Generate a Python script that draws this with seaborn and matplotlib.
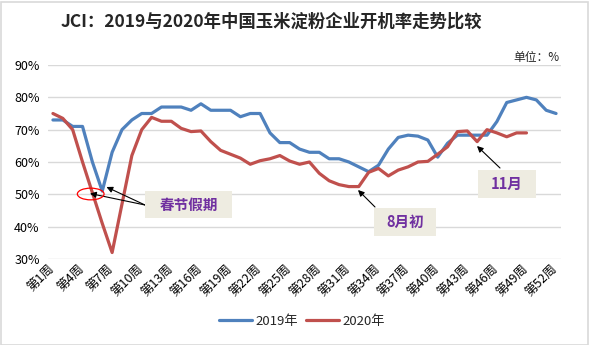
import numpy as np
import pandas as pd
import matplotlib
matplotlib.use("Agg")
import matplotlib.pyplot as plt
from matplotlib.patches import Rectangle, Ellipse
from matplotlib.ticker import FuncFormatter
from matplotlib.lines import Line2D
import seaborn as sns

# ---------------- data ----------------
weeks = list(range(1, 53))
week_labels = [f"第{i}周" for i in weeks]
tick_weeks = list(range(1, 53, 3))

rate_2019 = [73, 73, 71, 71, 60, 51, 63, 70, 73, 75, 75, 77, 77, 77, 76, 78, 76, 76, 76, 74,
             75, 75, 69, 66, 66, 64, 63, 63, 61, 61, 60, 58.5, 57, 59, 64, 67.6, 68.3, 68, 66.8, 61.5,
             65.8, 68.3, 68.3, 68.3, 68.3, 72.5, 78.4, 79.2, 80, 79.2, 76, 75]
rate_2020 = [75, 73.5, 70, 60, 50.5, 41, 32, 47, 62, 70, 73.8, 72.6, 72.6, 70.4, 69.4, 69.6, 66.3, 63.6,
             62.4, 61.2, 59.3, 60.4, 61, 62, 60.3, 59.3, 60, 56.5, 54.2, 53, 52.4, 52.4, 56.8, 58, 55.7,
             57.5, 58.5, 60, 60.2, 62.4, 64.7, 69.4, 69.6, 66.3, 70, 69, 67.8, 69, 69,
             np.nan, np.nan, np.nan]
series_names = ["2019年", "2020年"]
colors = ["#4F81BD", "#C0504D"]

df = pd.concat([
    pd.DataFrame({"week": weeks, "rate": rate_2019, "year": series_names[0]}),
    pd.DataFrame({"week": weeks, "rate": rate_2020, "year": series_names[1]}),
], ignore_index=True)

# ---------------- style ----------------
sns.set_theme(style="white")
plt.rcParams["font.family"] = ["Noto Sans CJK SC", "DejaVu Sans"]
plt.rcParams["axes.unicode_minus"] = False

W, H = 589, 345
fig = plt.figure(figsize=(W / 100, H / 100), dpi=100)
ax = fig.add_axes([48 / W, 1 - 259 / H, (561 - 48) / W, (259 - 65) / H])

sns.lineplot(data=df, x="week", y="rate", hue="year", palette=colors,
             linewidth=2.3, ax=ax, legend=False, sort=False)

ax.set_xlim(0.5, 52.5)
ax.set_ylim(30, 90)
ax.set_yticks([30, 40, 50, 60, 70, 80, 90])
ax.yaxis.set_major_formatter(FuncFormatter(lambda v, p: f"{int(v)}%"))
ax.set_xticks(tick_weeks)
ax.set_xticklabels([week_labels[w - 1] for w in tick_weeks], rotation=45,
                   ha="right", va="center", rotation_mode="anchor")
ax.tick_params(axis="y", length=0, pad=6, labelsize=9, colors="#000000")
ax.tick_params(axis="x", length=0, pad=6, labelsize=9, colors="#000000")
ax.grid(axis="y", color="#D9D9D9", linewidth=1)
ax.grid(axis="x", visible=False)
for s in ax.spines.values():
    s.set_visible(False)
ax.set_xlabel("")
ax.set_ylabel("")

# legend
handles = [Line2D([0], [0], color=c, lw=2.3) for c in colors]
fig.legend(handles, series_names, loc="center", bbox_to_anchor=(302 / W, 1 - 321 / H),
           ncol=2, frameon=False, fontsize=9.5, handlelength=2.5, handletextpad=0.3,
           columnspacing=0.6)

# title and unit
fig.text(271 / W, 1 - 22 / H, "JCI：2019与2020年中国玉米淀粉企业开机率走势比较",
         ha="center", va="center", fontsize=12.5, fontweight="bold")
fig.text(560 / W, 1 - 58 / H, "单位：%", ha="right", va="center", fontsize=8.5)

# annotation boxes
def box(x0, y0, x1, y1, label):
    fig.add_artist(Rectangle((x0 / W, 1 - y1 / H), (x1 - x0) / W, (y1 - y0) / H,
                             transform=fig.transFigure, facecolor="#EEECE1",
                             edgecolor="none", zorder=5))
    fig.text((x0 + x1) / 2 / W, 1 - (y0 + y1) / 2 / H, label, ha="center", va="center",
             color="#7030A0", fontweight="bold", fontsize=10.5, zorder=6)

def arrow(tail, tip):
    ax.annotate("", xy=(tip[0] / W, 1 - tip[1] / H), xytext=(tail[0] / W, 1 - tail[1] / H),
                xycoords="figure fraction", textcoords="figure fraction",
                arrowprops=dict(arrowstyle="-|>", color="black", lw=0.8,
                                mutation_scale=9, shrinkA=0, shrinkB=0), zorder=7)

box(145, 191, 232, 218, "春节假期")
box(374, 208, 436, 236, "8月初")
box(478, 170, 536, 198, "11月")

arrow((145, 205), (90, 193.5))
arrow((145, 205), (106.5, 187))
arrow((375, 207), (358, 190))
arrow((500, 168), (477, 146))

fig.add_artist(Ellipse((90.7 / W, 1 - 194 / H), 26.7 / W, 11.7 / H,
                       transform=fig.transFigure, fill=False, edgecolor="#FF0000",
                       lw=0.9, zorder=6))

# outer border
fig.add_artist(Rectangle((0.5 / W, 0.5 / H), (W - 2) / W, (H - 2) / H,
                         transform=fig.transFigure, fill=False,
                         edgecolor="#D9D9D9", lw=1.2, zorder=10))

fig.savefig("out.png", dpi=100)
